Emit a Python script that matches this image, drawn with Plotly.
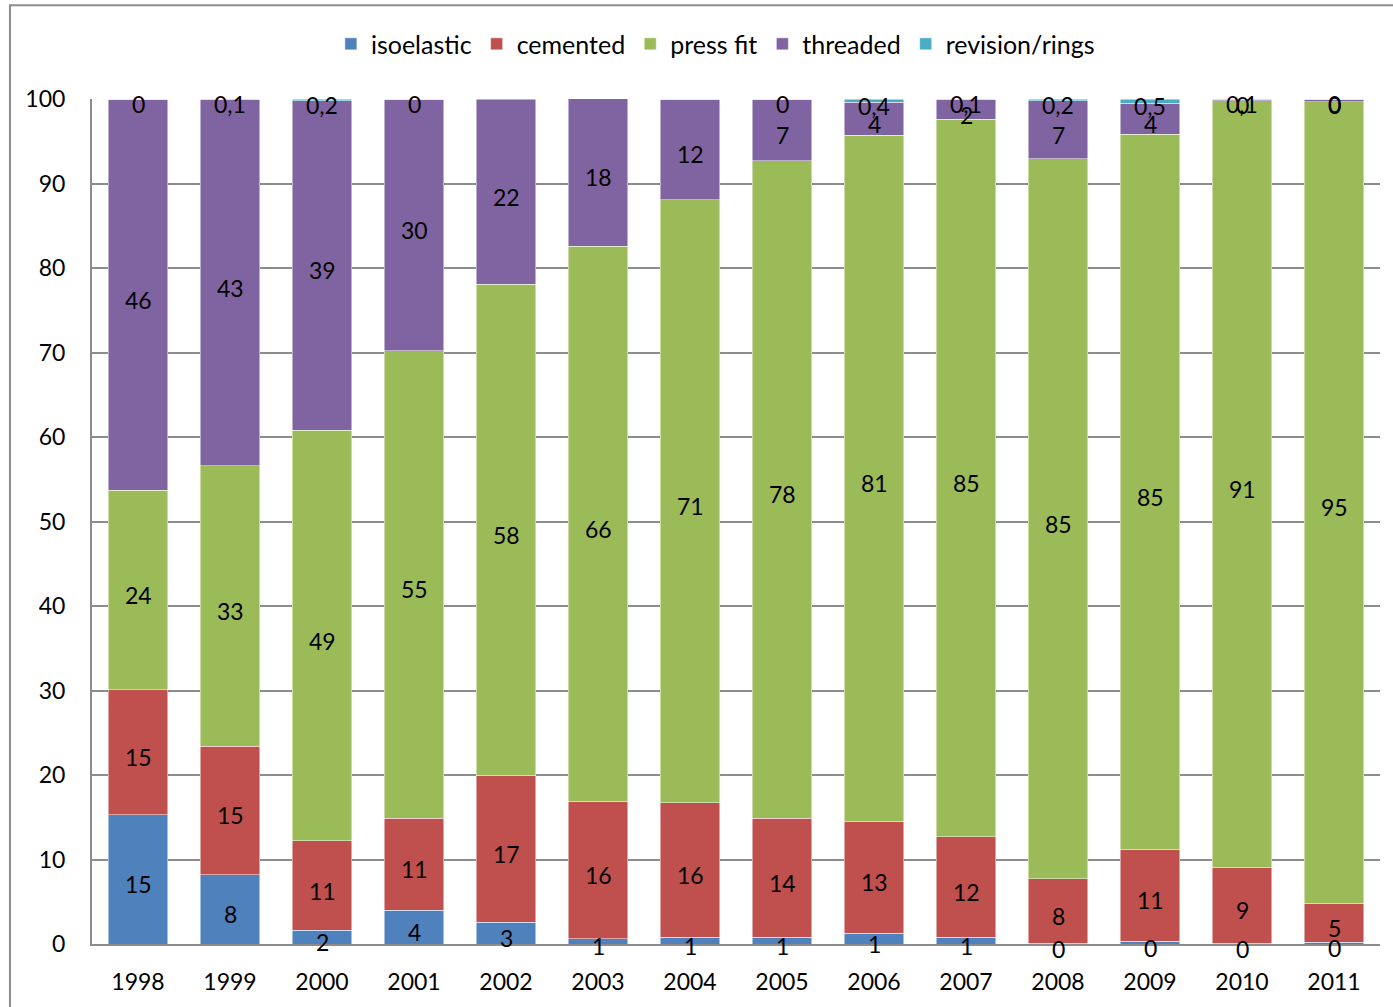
import plotly.graph_objects as go

years = ["1998", "1999", "2000", "2001", "2002", "2003", "2004",
         "2005", "2006", "2007", "2008", "2009", "2010", "2011"]

isoelastic = [15.3, 8.2, 1.6, 4.0, 2.6, 0.6, 0.8, 0.8, 1.3, 0.8, 0.1, 0.3, 0.1, 0.2]
cemented = [14.8, 15.2, 10.6, 10.9, 17.4, 16.3, 15.9, 14.1, 13.2, 11.9, 7.6, 10.9, 9.0, 4.6]
press_fit = [23.6, 33.2, 48.6, 55.3, 58.1, 65.7, 71.4, 77.8, 81.2, 84.9, 85.2, 84.6, 90.7, 94.9]
threaded = [46.3, 43.3, 39.0, 29.8, 21.9, 17.6, 11.9, 7.3, 3.9, 2.3, 6.9, 3.7, 0.1, 0.3]
revision_rings = [0.0, 0.1, 0.2, 0.0, None, None, 0.0, 0.0, 0.4, 0.1, 0.2, 0.5, 0.1, 0.0]

series = [
    ("isoelastic", isoelastic, "#4F81BD"),
    ("cemented", cemented, "#C0504D"),
    ("press fit", press_fit, "#9BBB59"),
    ("threaded", threaded, "#8064A2"),
    ("revision/rings", revision_rings, "#4BACC6"),
]

FONT = "Lato"
LABEL_SIZE = 23

fig = go.Figure()
for name, vals, col in series:
    fig.add_trace(go.Bar(
        x=years, y=vals, name=name,
        marker=dict(color=col, line=dict(color="rgba(255,255,255,0.6)", width=0.8)),
    ))

# data labels centred on each segment
annotations = []
base = [0.0] * len(years)
for name, vals, col in series:
    for i, v in enumerate(vals):
        if v is None:
            continue
        if name == "revision/rings":
            txt = "0" if v == 0 else f"{v:.1f}".replace(".", ",")
        else:
            txt = f"{v:.0f}"
        annotations.append(dict(
            x=i, y=base[i] + v / 2.0, xref="x", yref="y", text=txt, showarrow=False,
            yshift=-5, xanchor="center", yanchor="middle",
            font=dict(family=FONT, size=LABEL_SIZE, color="#000000"),
        ))
        base[i] += v

fig.update_layout(
    width=1393, height=1007,
    barmode="stack", bargap=0.35,
    paper_bgcolor="white", plot_bgcolor="white",
    margin=dict(l=92, r=13, t=99, b=63, autoexpand=False),
    font=dict(family=FONT, size=LABEL_SIZE, color="#000000"),
    legend=dict(orientation="h", x=0.484, xanchor="center", y=1.065, yanchor="middle",
                font=dict(family=FONT, size=25), tracegroupgap=0,
                traceorder="normal"),
    annotations=annotations,
    shapes=[dict(type="rect", xref="paper", yref="paper",
                 x0=-0.0637, x1=1.05, y0=-0.2, y1=1.111,
                 line=dict(color="#8c8c8c", width=2), fillcolor="rgba(0,0,0,0)",
                 layer="below")],
)
fig.update_xaxes(type="category", range=[-0.5, len(years) - 0.5],
                 showline=True, linecolor="#8c8c8c", linewidth=2, ticks="",
                 ticklabelstandoff=16, tickfont=dict(family=FONT, size=LABEL_SIZE),
                 automargin=False)
fig.update_yaxes(range=[0, 100], dtick=10, showgrid=True, gridcolor="#8c8c8c", gridwidth=2,
                 showline=True, linecolor="#8c8c8c", linewidth=2, ticks="",
                 ticklabelstandoff=20, tickfont=dict(family=FONT, size=LABEL_SIZE),
                 zeroline=False, automargin=False)

fig.write_html("out.html", config={"displayModeBar": False},
               post_script="document.body.style.margin='0px';")
